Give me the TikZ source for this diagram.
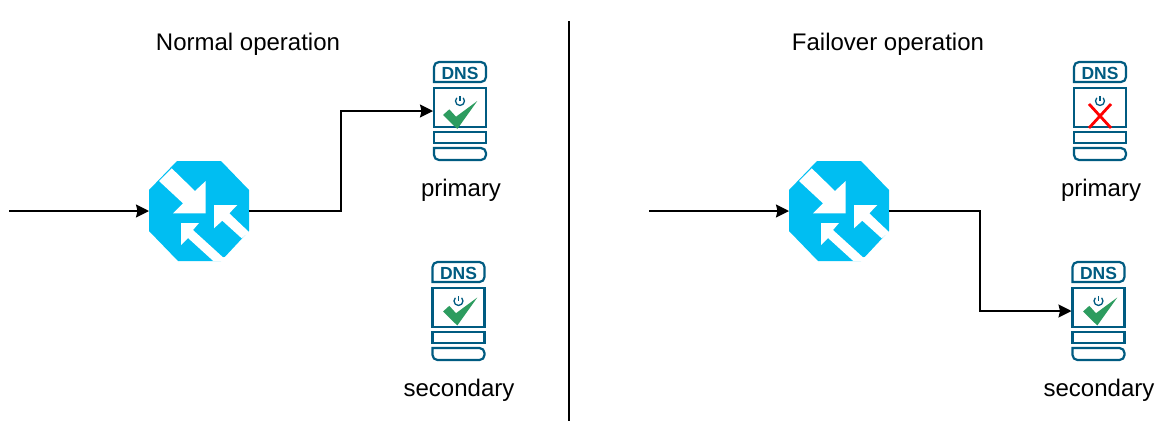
\documentclass[tikz,border=0pt]{standalone}
\usepackage{fontspec}
\setmainfont{Liberation Sans}
\usepackage{xcolor}
\usetikzlibrary{arrows.meta}
\definecolor{routerblue}{HTML}{00BEF2}
\definecolor{dnsteal}{HTML}{005B81}
\definecolor{okgreen}{HTML}{2D9C5F}
\tikzset{
  link/.style={draw=black,line width=1.6pt,-{Stealth[length=13pt,width=13pt,inset=1.5pt]}},
  caption/.style={font=\fontsize{24}{26}\selectfont,text=black},
  anchorbox/.style={minimum width=#1,minimum height=99pt,inner sep=0pt,outer sep=0pt},
  pics/dnsbox/.style={code={
    \draw[dnsteal,line width=2.2pt,rounded corners=5pt] (-26,-29) [sharp corners] -- (-26,-29) [rounded corners=5pt] -- (-26,-49) -- (26,-49) -- (26,-29) [sharp corners] -- cycle;
    \node[font=\bfseries\fontsize{17.5}{17.5}\selectfont,text=dnsteal] (-dnslabel) at (0,-37.5) {DNS};
    \draw[dnsteal,line width=2.2pt] (-26,-23) rectangle (26,16);
    \draw[dnsteal,line width=2.2pt] (-26,21) rectangle (26,32);
    \draw[dnsteal,line width=2.2pt] (-26,37) [rounded corners=5pt] -- (-26,49) -- (26,49) -- (26,37) [sharp corners] -- cycle;
    \draw[dnsteal,line width=1.3pt] (-3.2,-13.2) arc[start angle=225,end angle=-45,radius=4.5];
    \draw[dnsteal,line width=1.3pt] (0,-15) -- (0,-10);
  }},
  pics/okmark/.style={code={
    \fill[okgreen] (-17,4) -- (-10.7,-1.7) -- (-4,5.7) -- (17.3,-10) -- (-2.7,18) -- cycle;
  }},
  pics/failmark/.style={code={
    \draw[red,line width=2.8pt] (-11,-7) -- (11,17);
    \draw[red,line width=2.8pt] (11,-7) -- (-11,17);
  }},
  pics/routericon/.style={code={
    \fill[routerblue] (-50,-21) -- (-22,-50) -- (22,-50) -- (50,-21) -- (50,20) -- (22,50) -- (-21,50) -- (-50,20) -- cycle;
    % three arrows cut out in white
    \fill[white] (-40,-30) -- (-16,-7.7) -- (-26,2.3) -- (6.7,2.3) -- (6.7,-30) -- (-4,-20) -- (-27.3,-42.7) -- cycle;
    \fill[white] (15,-6) -- (38.3,-6) -- (30.3,2.3) -- (50,21) -- (42.7,27.3) -- (23.3,9.7) -- (15,17.3) -- cycle;
    \fill[white] (-18,12) -- (0,12) -- (-6,19) -- (24,46.3) -- (26,46) -- (26,50) -- (14.3,50) -- (-11,27) -- (-18,34) -- cycle;
  }}
}
\begin{document}
\begin{tikzpicture}[x=1pt,y=-1pt]
  \useasboundingbox (0,0) rectangle (1170,424);
  \node[caption] (titleA) at (248,44) {Normal operation};
  \node[caption] (titleB) at (888,44) {Failover operation};
  \coordinate (top) at (569,21);
  \coordinate (bottom) at (569,421);
  \draw[line width=1.6pt] (top) -- (bottom);

  % left side
  \node[anchorbox=100pt,minimum height=100pt] (routerA) at (199,211) {};
  \pic at (routerA) {routericon};
  \node[anchorbox=54pt] (primaryA) at (460,111) {};
  \pic at (primaryA) {dnsbox};
  \pic at (primaryA) {okmark};
  \node[caption] (labelA) at (461,190) {primary};
  \node[anchorbox=54pt] (secondaryA) at (458.5,311) {};
  \pic at (secondaryA) {dnsbox};
  \pic[shift={(1.5,-3.5)}] at (secondaryA) {okmark};
  \node[caption] (labelB) at (459,390) {secondary};
  \coordinate (inA) at (9,211);
  \coordinate (bendA) at (341,211);
  \draw[link] (inA) -- (routerA);
  \draw[link] (routerA) -- (bendA) |- (primaryA);

  % right side
  \node[anchorbox=100pt,minimum height=100pt] (routerB) at (839,211) {};
  \pic at (routerB) {routericon};
  \node[anchorbox=54pt] (primaryB) at (1100,111) {};
  \pic at (primaryB) {dnsbox};
  \pic at (primaryB) {failmark};
  \node[caption] (labelC) at (1101,190) {primary};
  \node[anchorbox=54pt] (secondaryB) at (1098.5,311) {};
  \pic at (secondaryB) {dnsbox};
  \pic[shift={(1.5,-3.5)}] at (secondaryB) {okmark};
  \node[caption] (labelD) at (1099,390) {secondary};
  \coordinate (inB) at (649,211);
  \coordinate (bendB) at (980,211);
  \draw[link] (inB) -- (routerB);
  \draw[link] (routerB) -- (bendB) |- (secondaryB);
\end{tikzpicture}
\end{document}
